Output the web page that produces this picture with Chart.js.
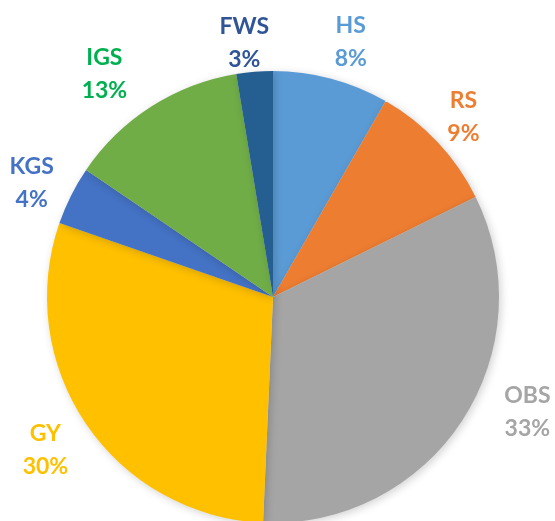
<!DOCTYPE html>
<html>
<head>
<meta charset="utf-8">
<script src="https://cdn.jsdelivr.net/npm/chart.js@4"></script>
<style>
  html, body { margin: 0; padding: 0; background: #fff; overflow: hidden; }
  #wrap { position: relative; width: 555px; height: 530px; }
</style>
</head>
<body>
<div id="wrap"><canvas id="pie"></canvas></div>
<script>
// share of each group
const categories = ['HS', 'RS', 'OBS', 'GY', 'KGS', 'IGS', 'FWS'];
const shares = [8.3, 9.4, 33.0, 29.6, 4.2, 12.9, 2.6];
const pctLabels = ['8%', '9%', '33%', '30%', '4%', '13%', '3%'];
const sliceColors = ['#5B9BD5', '#ED7D31', '#A5A5A5', '#FFC000', '#4472C4', '#70AD47', '#255E91'];
const labelColors = ['#5B9BD5', '#ED7D31', '#A5A5A5', '#FFC000', '#4472C4', '#00B050', '#2F5597'];

// labels outside the pie, on the middle of each slice (with a small nudge per label, like excel's best fit)
const outsideLabels = {
    id: 'outsideLabels',
    afterDatasetsDraw(chart, args, opts) {
        const ctx = chart.ctx;
        const arcs = chart.getDatasetMeta(0).data;
        const nudge = opts.nudge || [];
        ctx.save();
        ctx.font = 'bold 23px Lato, "Open Sans", sans-serif';
        ctx.textAlign = 'center';
        ctx.textBaseline = 'middle';
        arcs.forEach((arc, i) => {
            const mid = (arc.startAngle + arc.endAngle) / 2;
            const r = arc.outerRadius * 1.18;
            const n = nudge[i] || [0, 0];
            const x = arc.x + Math.cos(mid) * r + n[0];
            const y = arc.y + Math.sin(mid) * r + n[1];
            ctx.fillStyle = labelColors[i];
            ctx.fillText(categories[i], x, y - 16);
            ctx.fillText(pctLabels[i], x, y + 17);
        });
        ctx.restore();
    }
};

// soft shadow like the office chart
const pieShadow = {
    id: 'pieShadow',
    beforeDatasetsDraw(chart) {
        const ctx = chart.ctx;
        ctx.save();
        ctx.shadowColor = 'rgba(0,0,0,0.18)';
        ctx.shadowBlur = 8;
        ctx.shadowOffsetX = 2;
        ctx.shadowOffsetY = 2;
    },
    afterDatasetsDraw(chart) {
        chart.ctx.restore();
    }
};

new Chart(document.getElementById('pie').getContext('2d'), {
    type: 'pie',
    data: {
        labels: categories,
        datasets: [{
            data: shares,
            backgroundColor: sliceColors,
            borderWidth: 0
        }]
    },
    options: {
        responsive: true,
        maintainAspectRatio: false,
        animation: false,
        layout: { padding: { top: 71, bottom: 7, left: 0, right: 9 } },
        plugins: {
            legend: { display: false },
            tooltip: { enabled: false },
            outsideLabels: {
                nudge: [[9, 2], [-4, 2], [31, -31], [-7, 3], [-3, 5], [-25, 1], [-7, 11]]
            }
        }
    },
    plugins: [pieShadow, outsideLabels]
});
</script>
</body>
</html>
